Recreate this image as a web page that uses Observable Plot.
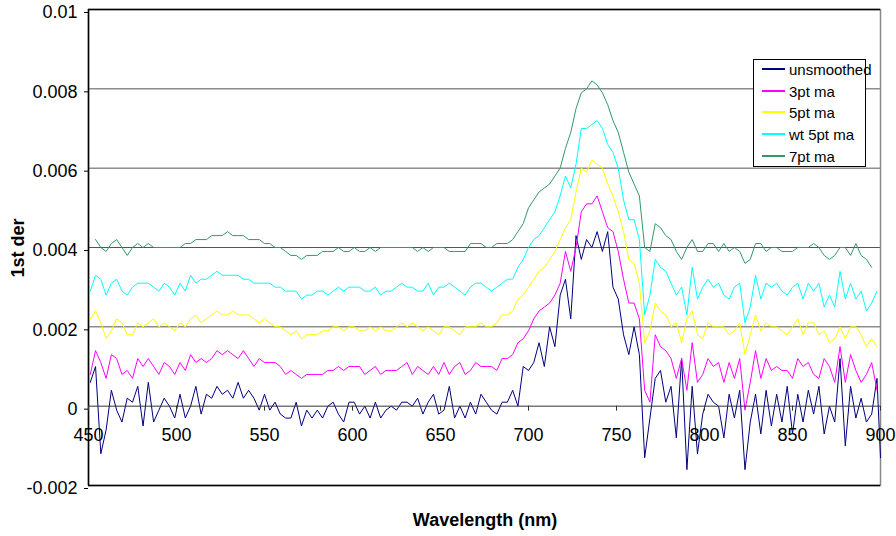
<!DOCTYPE html>
<html>
<head>
<meta charset="utf-8">
<script src="https://cdn.jsdelivr.net/npm/d3@7"></script>
<script src="https://cdn.jsdelivr.net/npm/@observablehq/plot@0.6"></script>
<style>
  body { margin: 0; background: #fff; }
  #chart { position: relative; width: 896px; height: 536px; overflow: hidden;
    font-family: "Liberation Sans Narrow", "Arial Narrow", "Liberation Sans", Arial, sans-serif; color: #000; }
  #chart svg { position: absolute; left: 0; top: 0; }
  .ytitle { position: absolute; left: 18px; top: 248px; transform: translate(-50%, -50%) rotate(-90deg);
    font-weight: bold; font-size: 18px; white-space: nowrap; }
  .xtitle { position: absolute; left: 485px; top: 520px; transform: translate(-50%, -50%);
    font-weight: bold; font-size: 18px; white-space: nowrap; }
  #legend { position: absolute; left: 753px; top: 59px; width: 111px; height: 106px;
    border: 1px solid #000; background: #fff; }
  .row { position: absolute; left: 0; height: 0; width: 100%; }
  .swatch { position: absolute; left: 8px; width: 23px; top: -1px; height: 2px; }
  .lab { position: absolute; left: 35px; top: -8px; font-size: 15px; line-height: 18px; white-space: nowrap; }
</style>
</head>
<body>
<div id="chart"></div>
<script>
const wavelength = [451,454,457,460,463,466,469,472,475,478,
  481,484,487,490,493,496,499,502,505,508,
  511,514,517,520,523,526,529,532,535,538,
  541,544,547,550,553,556,559,562,565,568,
  571,574,577,580,583,586,589,592,595,598,
  601,604,607,610,613,616,619,622,625,628,
  631,634,637,640,643,646,649,652,655,658,
  661,664,667,670,673,676,679,682,685,688,
  691,694,697,700,703,706,709,712,715,718,
  721,724,727,730,733,736,739,742,745,748,
  751,754,757,760,763,766,769,772,775,778,
  781,784,787,790,793,796,799,802,805,808,
  811,814,817,820,823,826,829,832,835,838,
  841,844,847,850,853,856,859,862,865,868,
  871,874,877,880,883,886,889,892,895,898,
  900];

// Series values, in units of 0.0001 (1st derivative)
const UNIT = 0.0001;
const unsmoothed = [6,10,-12,-6,4,-1,-4,2,1,5,
  -5,6,-4,-1,2,0,-3,3,-3,0,
  5,-2,3,2,5,3,4,2,6,2,
  4,2,-1,3,-1,1,-2,-3,-3,1,
  -5,-1,-3,-1,-3,0,1,-2,-4,1,
  1,-2,0,-3,1,-3,-1,0,-1,1,
  1,0,2,-2,1,3,-2,-1,5,-3,
  0,-3,1,-2,3,1,-1,-2,1,1,
  4,0,10,9,11,16,10,20,15,28,
  32,22,43,37,42,40,44,39,44,30,
  27,18,13,20,13,-13,-3,7,9,1,
  5,-8,12,-16,5,-12,-2,3,1,0,
  -8,3,-3,4,-16,-4,3,-7,4,-5,
  3,-4,5,-7,3,-4,4,-2,5,-7,
  0,-4,12,-10,5,-3,2,-4,-2,7,
  -13];
const ma3 = [8,14,11,7,13,12,8,9,7,12,
  10,12,10,8,11,10,8,11,9,13,
  11,12,11,12,14,13,14,13,12,14,
  12,10,12,11,11,11,10,8,9,8,
  7,8,8,8,8,9,9,10,9,10,
  10,10,8,9,10,8,9,9,9,10,
  11,8,10,9,8,10,8,11,8,10,
  11,8,9,11,10,10,10,9,12,12,
  13,16,17,19,22,24,25,26,28,31,
  39,34,40,49,51,51,53,49,45,44,
  39,32,26,26,22,4,1,18,15,14,
  12,7,12,4,16,6,8,12,10,11,
  6,11,7,12,-1,6,14,7,12,9,
  10,9,9,7,12,10,11,8,7,12,
  10,6,15,6,13,9,6,8,11,4,
  null];
const ma5 = [22,24,21,17,19,22,21,18,18,21,
  20,21,22,20,21,20,19,21,20,22,
  23,21,22,23,24,23,23,24,23,23,
  23,22,21,22,21,20,20,19,18,19,
  17,18,18,18,19,19,20,20,19,20,
  20,19,19,20,19,20,19,19,20,21,
  20,21,20,19,20,19,18,20,20,19,
  18,20,20,20,21,20,20,21,23,23,
  24,27,28,30,32,34,35,37,39,42,
  45,47,54,60,59,62,61,60,56,53,
  49,44,37,36,31,16,19,26,24,23,
  20,21,16,22,24,18,17,21,20,20,
  20,18,19,21,13,18,23,19,21,20,
  20,19,18,20,22,18,21,21,18,19,
  16,17,20,17,20,20,18,15,17,15,
  null];
const wma5 = [29,33,32,28,31,32,29,28,30,31,
  31,31,30,29,31,30,28,31,29,33,
  31,32,32,33,34,33,33,33,33,32,
  32,31,31,31,31,30,30,29,29,29,
  27,28,28,29,29,28,29,30,29,30,
  30,30,29,29,30,28,29,29,30,31,
  30,30,29,29,31,28,30,30,31,30,
  29,28,30,31,31,30,29,30,31,32,
  32,35,37,40,42,43,45,47,49,53,
  58,55,61,70,70,71,72,70,66,64,
  60,52,47,47,42,23,28,37,35,34,
  31,28,30,23,35,27,30,32,30,31,
  28,27,30,31,21,25,33,27,31,30,
  31,29,28,30,31,27,31,29,31,25,
  28,25,34,27,31,27,29,24,26,29,
  null];
const ma7 = [null,42,40,39,41,42,40,38,40,41,
  40,41,40,40,40,40,40,40,41,41,
  42,42,42,43,43,43,44,43,43,43,
  42,42,42,41,41,40,40,39,38,38,
  37,38,38,38,39,39,39,40,39,39,
  40,39,39,40,39,40,40,40,40,40,
  40,40,39,40,39,40,40,40,39,39,
  39,39,41,41,41,40,40,41,41,41,
  42,44,46,50,52,54,55,56,58,60,
  65,69,75,79,80,82,81,79,76,72,
  69,64,59,56,53,40,39,46,45,43,
  42,39,37,40,42,39,39,41,41,39,
  41,39,40,39,36,37,41,41,39,40,
  40,39,39,39,40,40,40,41,40,38,
  37,38,40,40,38,41,38,37,35,null,
  null];

const seriesNames = ["unsmoothed", "3pt ma", "5pt ma", "wt 5pt ma", "7pt ma"];
const seriesColors = ["#000080", "#FF00FF", "#FFFF00", "#00FFFF", "#339966"];
const seriesValues = [unsmoothed, ma3, ma5, wma5, ma7];

const xTicks = [450, 500, 550, 600, 650, 700, 750, 800, 850, 900];
const xTickLabels = ["450", "500", "550", "600", "650", "700", "750", "800", "850", "900"];
const yTicks = [-0.002, 0, 0.002, 0.004, 0.006, 0.008, 0.01];
const yTickLabels = ["-0.002", "0", "0.002", "0.004", "0.006", "0.008", "0.01"];
const gridValues = [0.002, 0.004, 0.006, 0.008];
const xDomain = [450, 900];
const yDomain = [-0.002, 0.01];
const xAxisAt = 0;
const yTitle = "1st der";
const xTitle = "Wavelength (nm)";

// Build long table
const rows = [];
seriesValues.forEach((vals, s) => {
  vals.forEach((v, i) => {
    if (v !== null) rows.push({ wl: wavelength[i], val: v * UNIT, series: seriesNames[s] });
  });
});
const yLabelMap = new Map(yTicks.map((t, i) => [t, yTickLabels[i]]));

const fontFam = '"Liberation Sans Narrow", "Arial Narrow", "Liberation Sans", Arial, sans-serif';

const plot = Plot.plot({
  width: 896,
  height: 536,
  marginLeft: 88,
  marginRight: 16,
  marginTop: 9,
  marginBottom: 51,
  x: { domain: xDomain, axis: null },
  y: { domain: yDomain, axis: null },
  color: { domain: seriesNames, range: seriesColors },
  style: { fontFamily: fontFam, fontSize: "18px", color: "#000", background: "transparent" },
  marks: [
    Plot.ruleY(gridValues, { stroke: "#555", strokeWidth: 1 }),
    Plot.frame({ stroke: "#888", strokeWidth: 1.5 }),
    Plot.ruleY([yDomain[0], yDomain[1]], { stroke: "#000", strokeWidth: 1.5 }),
    Plot.ruleX([xDomain[0]], { stroke: "#000", strokeWidth: 1.5 }),
    Plot.line(rows, { x: "wl", y: "val", z: "series", stroke: "series", strokeWidth: 1 }),
    Plot.ruleY([xAxisAt], { stroke: "#333", strokeWidth: 1 }),
    Plot.ruleX(xTicks, { x: d => d, y1: () => xAxisAt, y2: () => xAxisAt, insetBottom: -5, stroke: "#333" }),
    Plot.text(xTicks, { x: d => d, y: () => xAxisAt, text: (d, i) => xTickLabels[i], dy: 29, fontSize: 18, fill: "#000" }),
    Plot.axisY(yTicks, { anchor: "left", label: null, tickSize: 4, tickPadding: 7, dy: 3, fontSize: 18, color: "#000",
      tickFormat: d => yLabelMap.get(d) })
  ]
});

const chart = document.getElementById("chart");
chart.appendChild(plot);

const yt = document.createElement("div");
yt.className = "ytitle"; yt.textContent = yTitle; chart.appendChild(yt);
const xt = document.createElement("div");
xt.className = "xtitle"; xt.textContent = xTitle; chart.appendChild(xt);

const legend = document.createElement("div");
legend.id = "legend";
seriesNames.forEach((name, i) => {
  const row = document.createElement("div");
  row.className = "row";
  row.style.top = (9 + i * 21.67) + "px";
  const sw = document.createElement("div");
  sw.className = "swatch";
  sw.style.background = seriesColors[i];
  const lab = document.createElement("div");
  lab.className = "lab";
  lab.textContent = name;
  row.appendChild(sw); row.appendChild(lab);
  legend.appendChild(row);
});
chart.appendChild(legend);
</script>
</body>
</html>
